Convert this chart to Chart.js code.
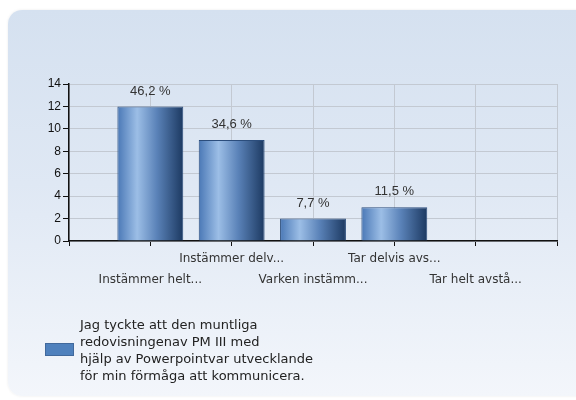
<!DOCTYPE html>
<html>
<head>
<meta charset="utf-8">
<script src="https://cdn.jsdelivr.net/npm/chart.js@4"></script>
<style>
    html, body { margin: 0; padding: 0; background: #fff; overflow: hidden; }
    #wrap { position: relative; width: 576px; height: 400px; }
    #panel {
        position: absolute; left: 8px; top: 10px; width: 590px; height: 386px;
        border-radius: 14px;
        background: linear-gradient(to bottom, #d5e1f0 0%, #dfe8f4 45%, #f3f6fb 100%);
        box-shadow: 0 0 3px rgba(0, 0, 0, 0.08);
    }
    #chart { position: absolute; left: 0; top: 0; }
    #legend {
        position: absolute; left: 45px; top: 316px;
        font-family: "DejaVu Sans", Verdana, sans-serif; font-size: 13px;
        line-height: 17px; color: #222;
    }
    #legend .box {
        position: absolute; left: 0; top: 27px; width: 29px; height: 13px;
        background: #4f81bd; border: 1px solid #41699c; box-sizing: border-box;
    }
    #legend .text { margin-left: 35px; }
</style>
</head>
<body>
<div id="wrap">
    <div id="panel"></div>
    <canvas id="chart" width="576" height="400"></canvas>
    <div id="legend"><div class="box"></div><div class="text" id="legendText"></div></div>
</div>
<script>
const categories = ["Instämmer helt...", "Instämmer delv...", "Varken instämm...", "Tar delvis avs...", "Tar helt avstå..."];
const counts = [12, 9, 2, 3, 0];
const percents = ["46,2 %", "34,6 %", "7,7 %", "11,5 %", ""];
const yTicks = [0, 2, 4, 6, 8, 10, 12, 14];
const seriesLabel = [
    "Jag tyckte att den muntliga",
    "redovisningenav PM III med",
    "hjälp av Powerpointvar utvecklande",
    "för min förmåga att kommunicera."
];

const FONT = "Liberation Sans, Arial, sans-serif";
const TICK_FONT = "DejaVu Sans, Verdana, sans-serif";
const BAR_FRACTION = 0.81;

// empty slot on both ends, like the original plot
const labels = [""].concat(categories, [""]);
const values = [null].concat(counts, [null]);

document.getElementById("legendText").innerHTML = seriesLabel.join("<br>");

function barGradient(c) {
    const chart = c.chart;
    const x = chart.scales.x;
    if (!x || !chart.chartArea) return "#4f81bd";
    const center = x.getPixelForValue(c.dataIndex);
    const half = (x.getPixelForValue(1) - x.getPixelForValue(0)) * BAR_FRACTION / 2;
    const g = chart.ctx.createLinearGradient(center - half, 0, center + half, 0);
    g.addColorStop(0, "#4a78b6");
    g.addColorStop(0.3, "#9cbee6");
    g.addColorStop(0.6, "#5a82b8");
    g.addColorStop(1, "#1c3961");
    return g;
}

const valueLabels = {
    id: "valueLabels",
    afterDatasetsDraw(chart) {
        const ctx = chart.ctx;
        const meta = chart.getDatasetMeta(0);
        ctx.save();
        ctx.font = "13px " + FONT;
        ctx.fillStyle = "#333";
        ctx.textAlign = "center";
        ctx.textBaseline = "bottom";
        meta.data.forEach((bar, i) => {
            const text = percents[i - 1];
            if (!text) return;
            ctx.fillText(text, bar.x, bar.y - 9);
        });
        ctx.restore();
    }
};

new Chart(document.getElementById("chart"), {
    type: "bar",
    data: {
        labels: labels,
        datasets: [{
            label: seriesLabel.join(" "),
            data: values,
            backgroundColor: barGradient,
            borderColor: "#2b4d7c",
            borderWidth: 1,
            barPercentage: 1,
            categoryPercentage: BAR_FRACTION,
        }],
    },
    plugins: [valueLabels],
    options: {
        responsive: false,
        animation: false,
        layout: { padding: { left: 0, right: 19, top: 84, bottom: 99 } },
        scales: {
            x: {
                offset: false,
                afterFit: (s) => { s.height = 60; },
                border: { color: "#111", width: 1.5 },
                grid: { offset: false, color: "#c3c9d2", tickColor: "#111", tickLength: 5 },
                ticks: {
                    autoSkip: false,
                    maxRotation: 0,
                    padding: 2,
                    color: "#333",
                    font: { family: TICK_FONT, size: 12, lineHeight: 1.75 },
                    callback: (v, i) => (i % 2 === 1 ? ["", labels[i]] : labels[i]),
                },
            },
            y: {
                min: 0,
                max: 14,
                afterFit: (s) => { s.width = 69; },
                afterBuildTicks: (s) => { s.ticks = yTicks.map((v) => ({ value: v })); },
                border: { color: "#111", width: 1.5 },
                grid: { color: "#c3c9d2", tickColor: "#111", tickLength: 6 },
                ticks: {
                    padding: 2,
                    color: "#111",
                    font: { family: FONT, size: 12 },
                },
            },
        },
        plugins: {
            legend: { display: false },
            tooltip: { enabled: false },
        },
    },
});
</script>
</body>
</html>
